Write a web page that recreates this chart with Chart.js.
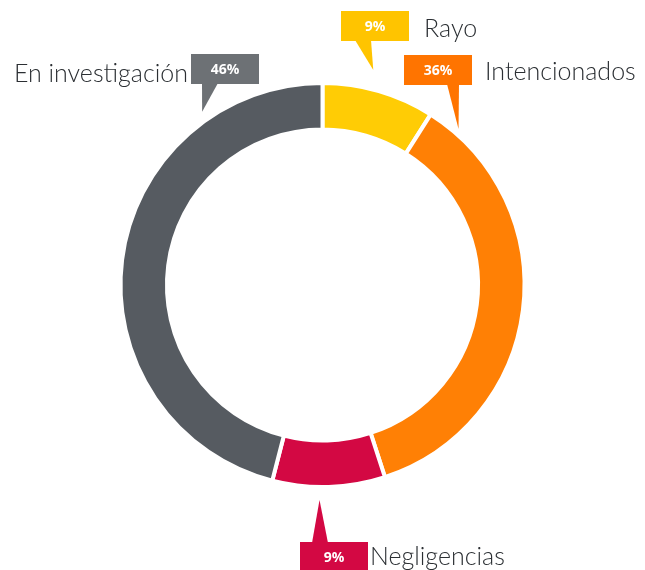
<!DOCTYPE html>
<html>
<head>
<meta charset="utf-8">
<script src="https://cdn.jsdelivr.net/npm/chart.js@4.4.0/dist/chart.umd.min.js"></script>
<style>
  html, body { margin: 0; padding: 0; background: #fff; }
  #wrap { width: 645px; height: 570px; position: relative; }
</style>
</head>
<body>
<div id="wrap"><canvas id="myDoughnut"></canvas></div>
<script>
// Datos del gráfico
const categorias = ["Rayo", "Intencionados", "Negligencias", "En investigación"];
const porcentajes = [9, 36, 9, 46];

// Colores del anillo y de las etiquetas
const coloresAnillo = ["#ffcc05", "#ff8005", "#d30843", "#565b61"];
const coloresCaja = ["#ffc400", "#ff7400", "#d30843", "#6d7175"];

// Posición de cada etiqueta (caja, punta del indicador, texto)
const etiquetas = [
    { box: [341, 11], frac: 0.41, extra: 17, base: [355, 371], text: [424, 37], align: "left" },
    { box: [404, 55], frac: 0.067, extra: 3, base: [447, 459], text: [485, 80], align: "left" },
    { box: [300, 542], frac: 0.58, extra: 11, base: [312, 328], text: [370, 565], align: "left" },
    { box: [191, 54], frac: 0.79, extra: 7, base: [202, 218], text: [188, 82], align: "right" },
];

const calloutPlugin = {
    id: "callouts",
    afterDraw(chart) {
        const ctx = chart.ctx;
        const arcs = chart.getDatasetMeta(0).data;
        arcs.forEach(function (arc, i) {
            const e = etiquetas[i];
            const p = arc.getProps(["x", "y", "startAngle", "endAngle", "outerRadius"], true);
            const a = p.startAngle + e.frac * (p.endAngle - p.startAngle);
            const r = p.outerRadius + 2 + e.extra;
            const tx = p.x + r * Math.cos(a);
            const ty = p.y + r * Math.sin(a);
            const bw = 68, bh = 30;
            const bx = e.box[0], by = e.box[1];
            const below = ty > by;
            const edgeY = below ? by + bh : by;

            ctx.save();
            ctx.fillStyle = coloresCaja[i];
            ctx.fillRect(bx, by, bw, bh);
            ctx.beginPath();
            ctx.moveTo(e.base[0], edgeY + (below ? -1 : 1));
            ctx.lineTo(e.base[1], edgeY + (below ? -1 : 1));
            ctx.lineTo(tx, ty);
            ctx.closePath();
            ctx.fill();

            ctx.fillStyle = "#ffffff";
            ctx.font = "bold 14px 'Open Sans'";
            ctx.textAlign = "center";
            ctx.textBaseline = "middle";
            ctx.fillText(porcentajes[i] + "%", bx + bw / 2, by + bh / 2 + 1);

            ctx.fillStyle = "#2b2f33";
            ctx.font = "300 25px Lato";
            ctx.textAlign = e.align;
            ctx.textBaseline = "alphabetic";
            ctx.fillText(categorias[i], e.text[0], e.text[1]);
            ctx.restore();
        });
    },
};

const ctxDoughnut = document.getElementById("myDoughnut").getContext("2d");
const myDoughnut = new Chart(ctxDoughnut, {
    type: "doughnut",
    data: {
        labels: categorias,
        datasets: [
            {
                data: porcentajes,
                backgroundColor: coloresAnillo,
                borderColor: "#ffffff",
                borderWidth: 4,
            },
        ],
    },
    options: {
        responsive: true,
        maintainAspectRatio: false,
        animation: false,
        cutout: "77%",
        layout: { padding: { top: 81, bottom: 81, left: 0, right: 0 } },
        plugins: {
            legend: { display: false },
            tooltip: { enabled: false },
        },
    },
    plugins: [calloutPlugin],
});
</script>
</body>
</html>
